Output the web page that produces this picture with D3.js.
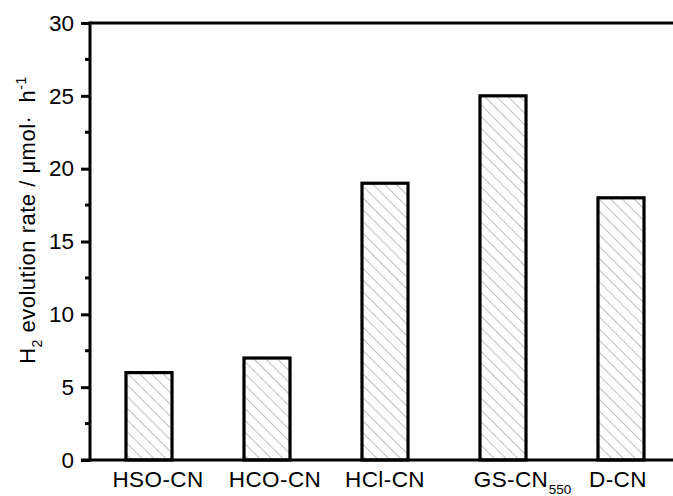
<!DOCTYPE html>
<html>
<head>
<meta charset="utf-8">
<script src="https://cdn.jsdelivr.net/npm/d3@7"></script>
<style>
  body { margin: 0; background: #fff; }
  svg { font-family: "Liberation Sans", Arial, sans-serif; }
</style>
</head>
<body>
<svg id="chart" width="673" height="496"></svg>
<script>
"use strict";

const categories = ['HSO-CN', 'HCO-CN', 'HCl-CN', 'GS-CN', 'D-CN'];
const subscripts = ['', '', '', '550', ''];
const rates = [6, 7, 19, 25, 18];
const yTicks = [0, 5, 10, 15, 20, 25, 30];
const yMinorTicks = [2.5, 7.5, 12.5, 17.5, 22.5, 27.5];

const W = 673, H = 496;
const plotLeft = 90, plotTop = 23, plotBottom = 460;
const labelNudge = [9, 8, 0, 8, -3];  // labels in the original sit a little off-centre

let svg = d3.select('#chart');

const x = d3.scaleBand()
            .domain(categories)
            .range([plotLeft, 680])
            .paddingInner(0.61)
            .paddingOuter(0.305);

const y = d3.scaleLinear()
            .domain([0, 30])
            .range([plotBottom, plotTop]);

// Hatch pattern for the bars
svg.append('defs')
   .append('pattern')
   .attr('id', 'hatch')
   .attr('patternUnits', 'userSpaceOnUse')
   .attr('width', 8.3)
   .attr('height', 8.3)
   .attr('patternTransform', 'rotate(-45)')
   .append('line')
   .attr('x1', 0).attr('y1', 0)
   .attr('x2', 0).attr('y2', 8.3)
   .attr('stroke', '#8a8a8a')
   .attr('stroke-width', 1.1);

// Bars
svg.append('g')
   .selectAll('rect')
   .data(rates)
   .enter()
   .append('rect')
   .attr('x', (d, i) => x(categories[i]))
   .attr('y', d => y(d))
   .attr('width', x.bandwidth())
   .attr('height', d => y(0) - y(d))
   .attr('fill', 'url(#hatch)')
   .attr('stroke', '#000')
   .attr('stroke-width', 3.2);

// Frame: top and bottom run to the right edge, no right axis
svg.append('line')
   .attr('x1', plotLeft).attr('x2', W)
   .attr('y1', plotTop).attr('y2', plotTop)
   .attr('stroke', '#000').attr('stroke-width', 3);

// Y axis
const yAxis = d3.axisLeft(y)
                .tickValues(yTicks)
                .tickSize(9)
                .tickPadding(7)
                .tickFormat(d3.format('d'));
let gy = svg.append('g')
            .attr('transform', `translate(${plotLeft},0)`)
            .call(yAxis);
gy.select('.domain').remove();
gy.selectAll('.tick line').attr('stroke-width', 3);
gy.selectAll('.tick text')
  .attr('font-size', 22.5)
  .attr('font-family', '"Liberation Sans", Arial, sans-serif')
  .attr('fill', '#000');

svg.append('g')
   .selectAll('line')
   .data(yMinorTicks)
   .enter()
   .append('line')
   .attr('x1', plotLeft - 5).attr('x2', plotLeft)
   .attr('y1', d => y(d)).attr('y2', d => y(d))
   .attr('stroke', '#000').attr('stroke-width', 3);

svg.append('line')
   .attr('x1', plotLeft).attr('x2', plotLeft)
   .attr('y1', plotTop - 1.5).attr('y2', plotBottom + 1.5)
   .attr('stroke', '#000').attr('stroke-width', 3);

// X axis line
svg.append('line')
   .attr('x1', plotLeft - 9).attr('x2', W)
   .attr('y1', plotBottom).attr('y2', plotBottom)
   .attr('stroke', '#000').attr('stroke-width', 3);

// X labels
let xg = svg.append('g');
categories.forEach((c, i) => {
  let cx = x(c) + x.bandwidth() / 2 + labelNudge[i];
  let t = xg.append('text')
            .attr('x', cx)
            .attr('y', 487)
            .attr('text-anchor', 'middle')
            .attr('font-size', 22.5)
            .attr('letter-spacing', 0.4)
            .attr('fill', '#000')
            .text(c);
  if (subscripts[i]) {
    let w = t.node().getComputedTextLength();
    xg.append('text')
      .attr('x', cx + w / 2 + 0.5)
      .attr('y', 494)
      .attr('font-size', 13.5)
      .attr('fill', '#000')
      .text(subscripts[i]);
  }
});

// Y label
let yl = svg.append('text')
            .attr('transform', 'translate(35,220) rotate(-90)')
            .attr('text-anchor', 'middle')
            .attr('font-size', 22)
            .attr('letter-spacing', 0.5)
            .attr('fill', '#000');
yl.append('tspan').text('H');
yl.append('tspan').attr('dy', 7).attr('font-size', 14).text('2');
yl.append('tspan').attr('dy', -7).text(' evolution rate / μmol·\u00A0\u00A0h');
yl.append('tspan').attr('dy', -9).attr('font-size', 14).text('-1');
</script>
</body>
</html>
